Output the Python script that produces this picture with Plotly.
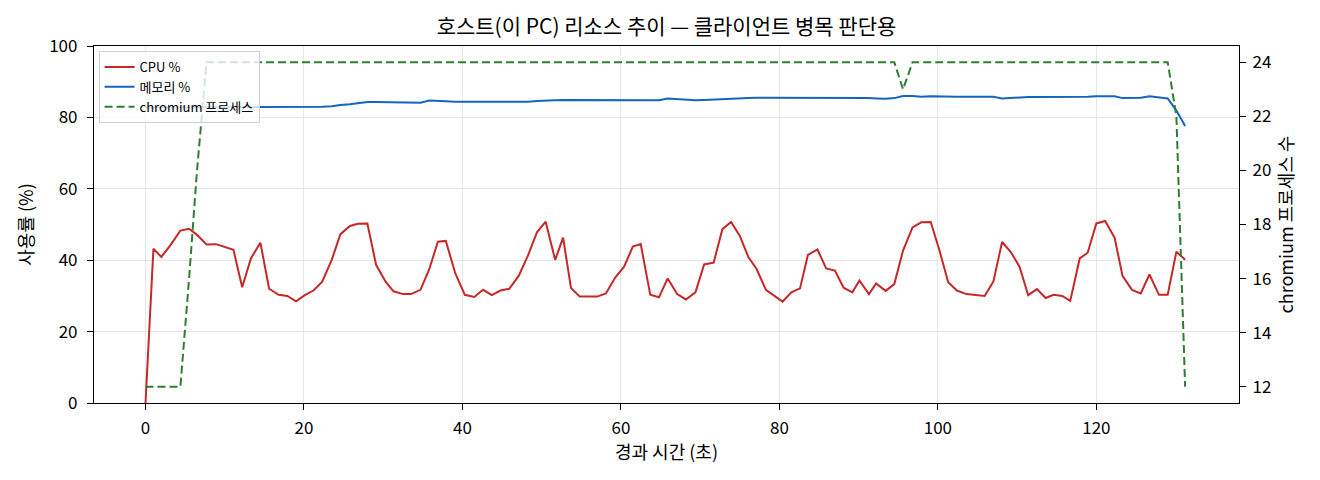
import plotly.graph_objects as go

# elapsed seconds of each sample
elapsed_s = [
    0, 1.0, 2.0, 3.1, 4.4, 5.5, 6.5, 7.7, 8.9, 10.0,
    11.1, 12.2, 13.3, 14.5, 15.6, 16.8, 17.9, 19.0, 20.1, 21.2,
    22.3, 23.5, 24.6, 25.8, 26.8, 28.0, 29.1, 30.3, 31.3, 32.5,
    33.5, 34.7, 35.8, 36.9, 37.9, 39.1, 40.3,
    41.5, 42.6, 43.7, 44.8, 45.9, 47.1, 48.3, 49.4, 50.5, 51.7,
    52.7, 53.7, 54.8, 55.9, 57.0, 58.1, 59.3, 60.4, 61.5, 62.5,
    63.7, 64.8, 65.9, 67.1, 68.2, 69.4, 70.5, 71.7, 72.8, 73.9,
    75.0, 76.1, 77.1, 78.3, 79.4, 80.4, 81.5, 82.6, 83.6, 84.8,
    85.9, 87.0, 88.1, 89.2,
    90.1, 91.3, 92.2, 93.4, 94.5, 95.6, 96.8, 97.9, 99.1, 100.2,
    101.3, 102.4, 103.6, 104.7, 105.9, 107.0, 108.1, 109.2, 110.3, 111.4,
    112.5, 113.6, 114.6, 115.7, 116.7, 117.9, 118.9, 120.0, 121.1, 122.3,
    123.3, 124.5, 125.6, 126.7, 127.9, 129.0, 130.1, 131.2,
]

cpu_pct = [
    0, 43.2, 40.9, 44.1, 48.3, 48.8, 47.1, 44.4, 44.5, 43.6,
    42.9, 32.4, 40.5, 44.9, 32.0, 30.3, 30.0, 28.5, 30.2, 31.5,
    34.0, 40.1, 47.3, 49.6, 50.2, 50.3, 38.7, 34.0, 31.3, 30.5,
    30.5, 31.7, 37.4, 45.2, 45.4, 36.3, 30.3,
    29.7, 31.7, 30.2, 31.5, 32.0, 35.6, 41.5, 47.8, 50.8, 40.1,
    46.3, 32.2, 29.8, 29.9, 29.8, 30.7, 35.2, 38.2, 43.8, 44.5,
    30.3, 29.6, 34.9, 30.5, 29.0, 31.0, 38.8, 39.3, 48.7, 50.7,
    46.8, 40.8, 37.6, 31.7, 30.0, 28.4, 31.0, 32.1, 41.5, 43.0,
    37.7, 37.1, 32.3, 31.0,
    34.3, 30.5, 33.5, 31.4, 33.3, 42.7, 49.2, 50.6, 50.7, 42.7,
    33.8, 31.5, 30.5, 30.3, 30.0, 34.0, 45.1, 42.3, 38.2, 30.2,
    31.9, 29.4, 30.3, 30.0, 28.6, 40.5, 42.1, 50.3, 51.0, 46.3,
    35.6, 31.7, 30.7, 36.0, 30.3, 30.3, 42.4, 40.1,
]

mem_pct = [
    82.8, 82.8, 82.9, 82.9, 82.9, 82.9, 82.9, 82.9, 82.9, 82.9,
    82.9, 82.9, 82.9, 82.9, 82.9, 82.9, 83.0, 82.9, 82.9, 83.0,
    83.0, 83.1, 83.5, 83.7, 84.0, 84.3, 84.3, 84.3, 84.3, 84.3,
    84.2, 84.1, 84.7, 84.5, 84.5, 84.4, 84.4,
    84.4, 84.3, 84.2, 84.3, 84.3, 84.3, 84.4, 84.6, 84.6, 84.8,
    84.9, 84.9, 84.9, 84.9, 84.9, 84.8, 84.8, 84.8, 84.8, 84.8,
    84.8, 84.8, 85.3, 85.1, 84.8, 84.8, 84.9, 85.0, 85.0, 85.2,
    85.1, 85.4, 85.5, 85.5, 85.5, 85.4, 85.4, 85.4, 85.4, 85.5,
    85.4, 85.6, 85.5, 85.5,
    85.5, 85.4, 85.3, 85.2, 85.4, 86.0, 86.0, 85.8, 85.9, 85.8,
    85.7, 85.8, 85.8, 85.8, 85.7, 85.8, 85.3, 85.5, 85.6, 85.7,
    85.7, 85.7, 85.6, 85.6, 85.7, 85.7, 85.8, 85.9, 85.8, 85.9,
    85.4, 85.4, 85.5, 85.9, 85.6, 85.3, 81.9, 77.6,
]

chromium_procs = [
    12, 12, 12, 12, 12, 16, 20, 24, 24, 24,
    24, 24, 24, 24, 24, 24, 24, 24, 24, 24,
    24, 24, 24, 24, 24, 24, 24, 24, 24, 24,
    24, 24, 24, 24, 24, 24, 24,
    24, 24, 24, 24, 24, 24, 24, 24, 24, 24,
    24, 24, 24, 24, 24, 24, 24, 24, 24, 24,
    24, 24, 24, 24, 24, 24, 24, 24, 24, 24,
    24, 24, 24, 24, 24, 24, 24, 24, 24, 24,
    24, 24, 24, 24,
    24, 24, 24, 24, 24, 23, 24, 24, 24, 24,
    24, 24, 24, 24, 24, 24, 24, 24, 24, 24,
    24, 24, 24, 24, 24, 24, 24, 24, 24, 24,
    24, 24, 24, 24, 24, 24, 22, 12,
]

x_ticks = [0, 20, 40, 60, 80, 100, 120]
left_ticks = [0, 20, 40, 60, 80, 100]
right_ticks = [12, 14, 16, 18, 20, 22, 24]

FONT = "Noto Sans CJK KR"

fig = go.Figure()
fig.add_trace(go.Scatter(
    x=elapsed_s, y=cpu_pct, mode="lines", name="CPU %",
    line=dict(color="#c62828", width=2)))
fig.add_trace(go.Scatter(
    x=elapsed_s, y=mem_pct, mode="lines", name="메모리 %",
    line=dict(color="#1565c0", width=2)))
fig.add_trace(go.Scatter(
    x=elapsed_s, y=chromium_procs, mode="lines", name="chromium 프로세스",
    yaxis="y2", line=dict(color="#2e7d32", width=2, dash="8px,4px")))

axis_common = dict(
    ticks="outside", ticklen=6, tickcolor="black",
    showline=True, linecolor="black", linewidth=1.2,
    zeroline=False, tickfont=dict(size=17),
)

# page body has an 8px margin, so the figure is a bit smaller than the window
fig.update_layout(
    width=1312, height=472,
    margin=dict(l=86, r=81, t=38, b=77),
    paper_bgcolor="white", plot_bgcolor="white",
    font=dict(family=FONT, size=17, color="black"),
    title=dict(
        text="호스트(이 PC) 리소스 추이 — 클라이언트 병목 판단용",
        x=0.5, xref="paper", xanchor="center",
        y=1 - 19 / 472, yref="container", yanchor="middle",
        font=dict(size=21)),
    xaxis=dict(
        range=[-6.5, 138], tickvals=x_ticks, mirror=True,
        showgrid=True, gridcolor="#e6e6e6", gridwidth=1,
        ticklabelstandoff=3,
        title=dict(text="경과 시간 (초)", standoff=8, font=dict(size=18)),
        **axis_common),
    yaxis=dict(
        range=[0, 100], tickvals=left_ticks, mirror=True,
        showgrid=True, gridcolor="#e6e6e6", gridwidth=1,
        ticklabelstandoff=6,
        title=dict(text="사용률 (%)", standoff=10, font=dict(size=18)),
        **axis_common),
    yaxis2=dict(
        overlaying="y", side="right", range=[11.4, 24.6],
        tickvals=right_ticks, showgrid=False,
        ticklabelstandoff=3,
        title=dict(text="chromium 프로세스 수", standoff=10, font=dict(size=18)),
        **axis_common),
    legend=dict(
        x=0.004, y=0.986, xanchor="left", yanchor="top",
        bgcolor="rgba(255,255,255,0.8)", bordercolor="#d0d0d0", borderwidth=1,
        font=dict(size=13), tracegroupgap=0),
    showlegend=True,
)

fig.write_html("out.html")
